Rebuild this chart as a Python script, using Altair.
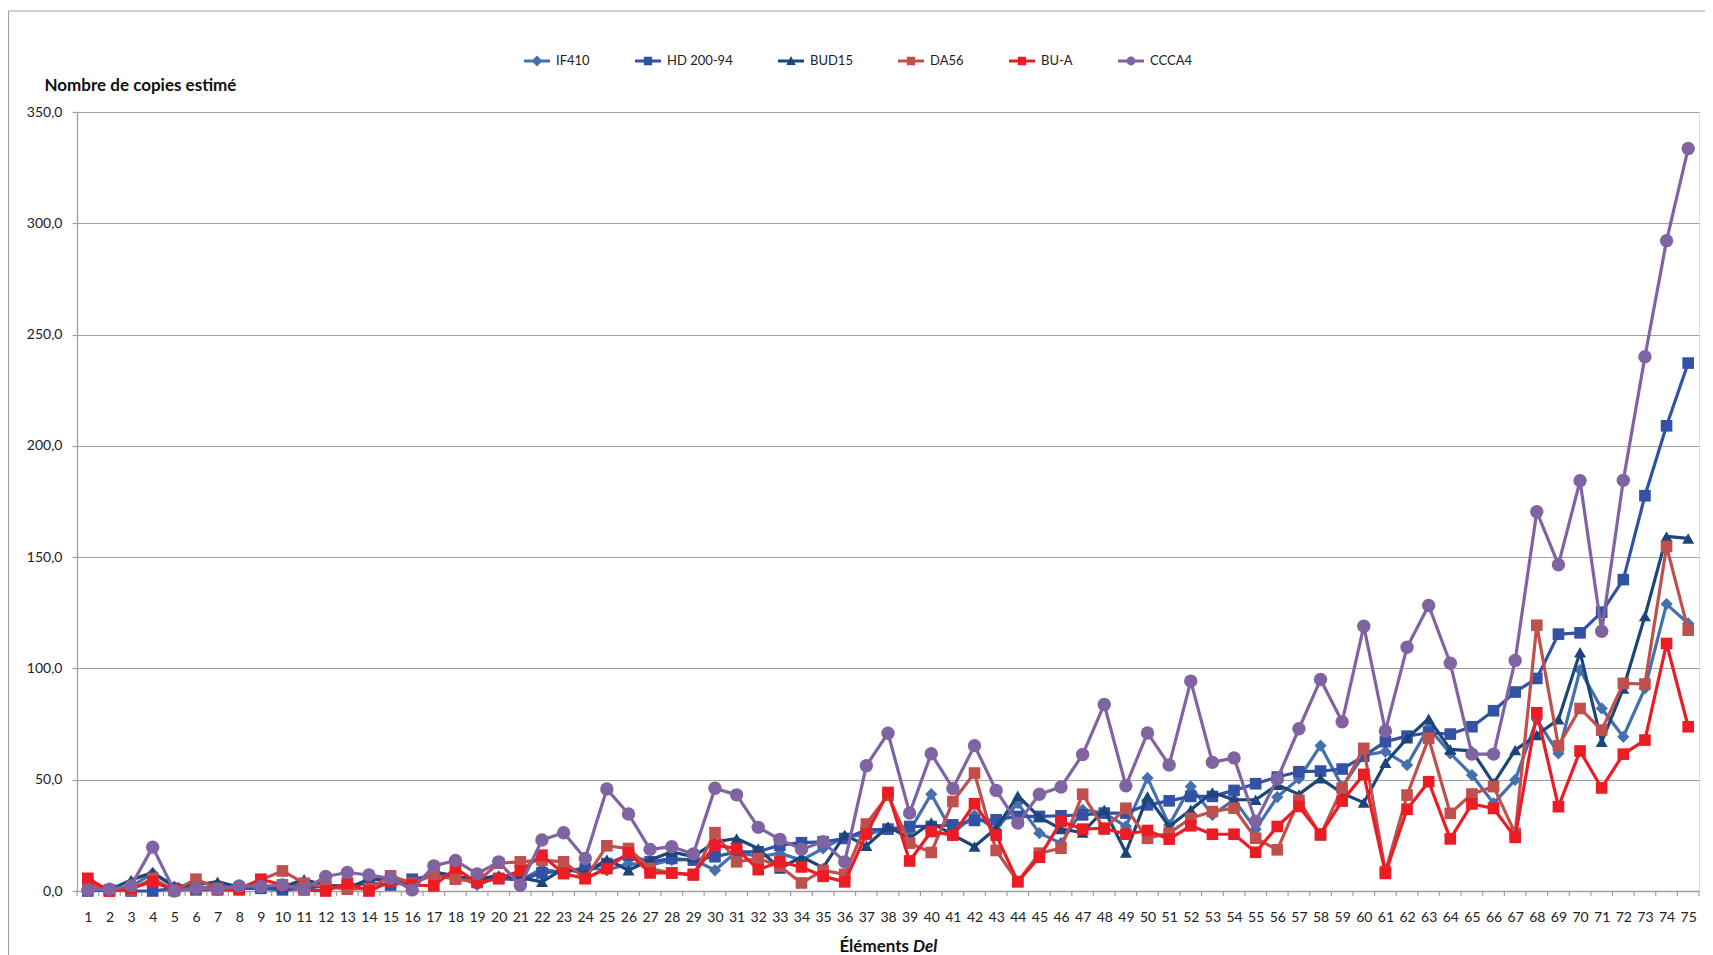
import altair as alt
import pandas as pd

# ---------------- data ----------------
elements = list(range(1, 76))
series_names = ["IF410", "HD 200-94", "BUD15", "DA56", "BU-A", "CCCA4"]

if410 = [1.2, 0.2, 2, 8, 1.7, 1.2, 2, 1.7, 1.2, 1.2, 3.2, 2.7, 2, 3.8, 2.7, 4.2, 8, 7.2, 2.7, 6.3,
         4.8, 10, 8.1, 10.8, 9.3, 12.3, 11.6, 13.9, 14.2, 9.3, 17.6, 15.4, 16.9, 13.9, 19.1, 24.4, 25.2, 28.2, 27, 43.5,
         26, 34, 27.5, 39.5, 26, 21.5, 36.5, 35, 29, 50.8, 29.7, 47, 34.2, 41, 27.8, 42.2, 50.5, 65.3, 46.9, 61,
         62.6, 56.6, 73.5, 61.8, 52.1, 39.4, 49.9, 77, 61.8, 99.3, 82, 69.3, 91, 128.9, 120.2]
hd20094 = [0, 0.5, 0, 0, 1.2, 0.5, 0.8, 1.2, 1.2, 0.5, 1.2, 2.3, 2.3, 3.5, 2.7, 5.3, 7.2, 5.7, 5.3, 5.6,
           5, 8.1, 9, 10, 12.3, 16.1, 13.1, 14.6, 13.9, 15.4, 17.6, 17.6, 20.6, 21.7, 22.1, 23.6, 27.4, 27.8, 29, 29,
           29.7, 31.7, 32, 33.5, 33.5, 33.8, 34.2, 35, 35, 38.7, 40.5, 42.5, 42.5, 45.2, 48.2, 51.2, 53.6, 53.9, 54.8, 60.6,
           67.1, 69.6, 71.1, 70.5, 73.8, 81, 89.4, 95.5, 115.4, 116, 125.3, 139.9, 177.6, 209, 237.2]
bud15 = [0.8, 0.5, 5, 8.3, 2.3, 2.7, 4.2, 1.7, 2.3, 1.7, 5.3, 2.3, 1.2, 5.3, 5, 2.7, 8.7, 6.5, 5.3, 7,
         6, 4.1, 10.1, 7.8, 14.2, 9.3, 13.9, 17.6, 15.4, 22.1, 23.6, 19.1, 10.1, 15.4, 10.5, 25.2, 20.3, 28.9, 23.7, 30.8,
         25.2, 20, 28.2, 42.8, 33.2, 27.8, 26.3, 36.5, 17.3, 42.5, 29, 36.5, 44.3, 41, 41, 47.7, 43.4, 50.6, 43.9, 39.7,
         57.6, 68.6, 77.4, 63.6, 63, 48.4, 63.3, 70.1, 77.1, 107.3, 67, 91, 123.5, 159.3, 158.4]
da56 = [3.5, 0, 0.5, 5.7, 0.2, 5.3, 1.2, 1.2, 5, 9, 3.5, 2, 0.8, 1.2, 6.8, 3.5, 7.2, 5.3, 4.2, 12.5,
        13.1, 13.9, 13.1, 5.6, 20.3, 19.1, 10.1, 8.1, 7.1, 26.2, 13.1, 14.6, 11.1, 3.6, 9.3, 7.5, 30.1, 43, 21.5, 17.3,
        40.2, 53, 18.2, 4.2, 17, 19.2, 43.5, 27.8, 37.2, 23.7, 26, 32.7, 35.7, 37.2, 23.7, 18.5, 40.8, 25.1, 46.1, 64.1,
        8.7, 43.1, 68.6, 34.9, 43.6, 46.9, 25.9, 119.4, 65.2, 82, 72.3, 93.3, 93, 154.8, 117.2]
bua = [5.7, 0, 1.2, 4.2, 0.5, 1.2, 0.5, 0.5, 5.3, 2.7, 0.5, 0, 3.5, 0, 4.2, 2.7, 2.3, 10.2, 3.8, 5.6,
       9, 16.1, 7.8, 5.6, 10.1, 17.2, 8.1, 8.1, 7.5, 20.6, 19.1, 9.6, 13.1, 10.8, 6.6, 4.1, 25.6, 44.3, 13.5, 26.7,
       25.1, 39.2, 25.1, 4.2, 15.2, 31.2, 27.8, 28.2, 25.5, 27.2, 23.3, 29.3, 25.5, 25.5, 17.4, 29, 38, 25.6, 40.4, 52.4,
       7.9, 36.7, 49.1, 23.4, 39.1, 37.1, 24.1, 80.1, 37.9, 62.9, 46.3, 61.5, 67.8, 111.2, 73.8]
ccca4 = [0.5, 0.8, 2.3, 19.7, 0, 1.2, 0.8, 2.3, 2, 2.7, 0.8, 6.5, 8.3, 7.2, 5.7, 0.5, 11.3, 13.7, 7.7, 13.1,
         2.6, 22.9, 26.2, 14.6, 45.8, 34.6, 18.7, 19.9, 16.6, 46.2, 43.2, 28.6, 23.2, 18.8, 22.1, 13.1, 56.3, 70.9, 35, 61.7,
         46.1, 65.3, 45.2, 30.5, 43.5, 46.7, 61.3, 83.8, 47.3, 71, 56.6, 94.3, 57.8, 59.8, 31.2, 50.3, 72.9, 95, 76, 119,
         71.9, 109.5, 128.3, 102.3, 61.5, 61.5, 103.6, 170.4, 146.6, 184.3, 116.7, 184.5, 240, 292.2, 333.6]

y_ticks = [0, 50, 100, 150, 200, 250, 300, 350]
y_title = "Nombre de copies estimé"
x_title_1 = "Éléments"
x_title_2 = "Del"

# ---------------- styles ----------------
colors = ["#4470AD", "#3352A5", "#1C4679", "#BF504D", "#EC1C24", "#8063A1"]
shapes = ["diamond", "square", "triangle-up", "square", "square", "circle"]
sizes = [150, 135, 145, 135, 135, 180]

LINE = "M-1,-0.11 L1,-0.11 L1,0.11 L-1,0.11 Z "
legend_paths = [
    LINE + "M0,-0.42 L0.42,0 L0,0.42 L-0.42,0 Z",
    LINE + "M-0.32,-0.32 L0.32,-0.32 L0.32,0.32 L-0.32,0.32 Z",
    LINE + "M0,-0.38 L0.36,0.3 L-0.36,0.3 Z",
    LINE + "M-0.32,-0.32 L0.32,-0.32 L0.32,0.32 L-0.32,0.32 Z",
    LINE + "M-0.32,-0.32 L0.32,-0.32 L0.32,0.32 L-0.32,0.32 Z",
    LINE + "M-0.34,0 A0.34,0.34 0 1,1 0.34,0 A0.34,0.34 0 1,1 -0.34,0 Z",
]

FONT = "Lato"
GRAY = "#A0A0A0"
W, H = 1622, 779

rows = []
for name, vals in zip(series_names, [if410, hd20094, bud15, da56, bua, ccca4]):
    for e, v in zip(elements, vals):
        rows.append({"element": e, "value": v, "series": name})
df = pd.DataFrame(rows)

boundaries = pd.DataFrame({"b": [e - 0.5 for e in elements] + [elements[-1] + 0.5]})

x_scale = alt.Scale(domain=[elements[0] - 0.5, elements[-1] + 0.5], nice=False, zero=False)
y_scale = alt.Scale(domain=[y_ticks[0], y_ticks[-1]], nice=False)

x_axis = alt.Axis(values=elements, format="d", labelAngle=0, ticks=False, tickSize=0, grid=False,
                  labelFontSize=14, labelColor="#222222", labelPadding=19, labelFont=FONT,
                  domainColor=GRAY, domainWidth=1.3, title=None, labelOverlap=False)
y_axis = alt.Axis(values=y_ticks, labelExpr="replace(format(datum.value, '.1f'), '.', ',')",
                  grid=True, gridColor=GRAY, gridWidth=1.2, tickSize=5, tickColor=GRAY, tickWidth=1.3,
                  domainColor=GRAY, domainWidth=1.3, labelFontSize=14, labelColor="#222222",
                  labelPadding=10, labelFont=FONT,
                  title=y_title, titleAngle=0, titleX=-33, titleY=-27, titleAlign="left",
                  titleBaseline="middle", titleFontSize=17, titleFontWeight="bold", titleFont=FONT,
                  titleColor="#111111")

X = alt.X("element:Q", scale=x_scale, axis=x_axis)
Y = alt.Y("value:Q", scale=y_scale, axis=y_axis)

one = pd.DataFrame({"a": [0]})

border_v = alt.Chart(one).mark_rule(color=GRAY, strokeWidth=1.2).encode(
    x=alt.value(-68.5), y=alt.value(-101), y2=alt.value(H + 80))
border_h = alt.Chart(one).mark_rule(color=GRAY, strokeWidth=1.2).encode(
    x=alt.value(-68.5), x2=alt.value(W + 60), y=alt.value(-101))

ticks = alt.Chart(boundaries).mark_rule(color=GRAY, strokeWidth=1.2).encode(
    x=alt.X("b:Q", scale=x_scale, axis=x_axis), y=alt.value(H), y2=alt.value(H + 5))

layers = [border_v, border_h, ticks]
for name, c, s, sz in zip(series_names, colors, shapes, sizes):
    sub = df[df["series"] == name]
    line = alt.Chart(sub).mark_line(color=c, strokeWidth=3.2, strokeJoin="round").encode(x=X, y=Y)
    pts = alt.Chart(sub).mark_point(shape=s, filled=True, color=c, size=sz, opacity=1).encode(x=X, y=Y)
    layers += [line, pts]

leg = alt.Legend(orient="none", legendX=447, legendY=-64, direction="horizontal", title=None,
                 symbolSize=676, symbolStrokeWidth=0, labelFontSize=13, labelFont=FONT,
                 labelColor="#222222", labelOffset=6, columnPadding=45, padding=0)
legend_layer = alt.Chart(df).transform_filter("datum.value < -1").mark_point(filled=True, opacity=1).encode(
    x=X, y=Y,
    color=alt.Color("series:N", scale=alt.Scale(domain=series_names, range=colors), legend=leg),
    shape=alt.Shape("series:N", scale=alt.Scale(domain=series_names, range=legend_paths), legend=leg),
)
layers.append(legend_layer)

t1 = alt.Chart(one).mark_text(text=x_title_1, font=FONT, fontSize=17, fontWeight="bold", align="right",
                              baseline="alphabetic", color="#111111").encode(x=alt.value(832), y=alt.value(840))
t2 = alt.Chart(one).mark_text(text=x_title_2, font=FONT, fontSize=17, fontWeight="bold", fontStyle="italic",
                              align="left", baseline="alphabetic", color="#111111").encode(x=alt.value(836), y=alt.value(840))
layers += [t1, t2]

chart = alt.layer(*layers).properties(
    width=W, height=H,
    autosize=alt.AutoSizeParams(type="none"),
    padding={"left": 69, "top": 104, "right": 6, "bottom": 64},
    background="white",
).configure_view(strokeWidth=0).configure(font=FONT)

chart.save("out.html", embed_options={"renderer": "svg", "actions": False})
